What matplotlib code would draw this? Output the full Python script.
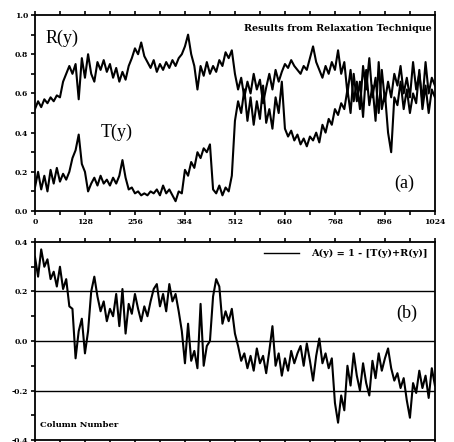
import numpy as np
import matplotlib
matplotlib.use("Agg")
import matplotlib.pyplot as plt

# column positions (every 8 columns)
cols = np.arange(0, 1025, 8)

R_y = [0.52, 0.56, 0.53, 0.57, 0.55, 0.58, 0.56, 0.59, 0.58, 0.66,
       0.70, 0.74, 0.70, 0.75, 0.57, 0.78, 0.68, 0.80, 0.70, 0.66,
       0.76, 0.72, 0.77, 0.71, 0.75, 0.68, 0.73, 0.66, 0.71, 0.67,
       0.74, 0.78, 0.83, 0.80, 0.86, 0.79, 0.76, 0.73, 0.77, 0.71,
       0.75, 0.72, 0.76, 0.73, 0.77, 0.74, 0.78, 0.80, 0.84, 0.90,
       0.80, 0.74, 0.62, 0.74, 0.69, 0.76, 0.70, 0.74, 0.71, 0.77,
       0.74, 0.81, 0.78, 0.82, 0.70, 0.62, 0.68, 0.58, 0.66, 0.60,
       0.70, 0.62, 0.67, 0.55, 0.63, 0.70, 0.62, 0.72, 0.66, 0.71,
       0.75, 0.73, 0.77, 0.74, 0.72, 0.70, 0.74, 0.72, 0.78, 0.84,
       0.76, 0.72, 0.68, 0.74, 0.70, 0.76, 0.72, 0.82, 0.70, 0.76,
       0.60, 0.72, 0.56, 0.66, 0.52, 0.74, 0.62, 0.78, 0.58, 0.68,
       0.50, 0.72, 0.56, 0.66, 0.58, 0.70, 0.64, 0.74, 0.60, 0.68,
       0.58, 0.76, 0.62, 0.70, 0.56, 0.76, 0.60, 0.68, 0.64]

T_y = [0.12, 0.20, 0.11, 0.18, 0.10, 0.21, 0.14, 0.22, 0.15, 0.19,
       0.16, 0.20, 0.27, 0.31, 0.39, 0.24, 0.20, 0.10, 0.14, 0.17,
       0.13, 0.18, 0.14, 0.16, 0.13, 0.17, 0.14, 0.18, 0.26, 0.17,
       0.11, 0.12, 0.09, 0.10, 0.08, 0.09, 0.08, 0.10, 0.09, 0.11,
       0.08, 0.13, 0.09, 0.11, 0.08, 0.05, 0.10, 0.09, 0.21, 0.18,
       0.25, 0.22, 0.30, 0.27, 0.32, 0.30, 0.34, 0.11, 0.09, 0.13,
       0.08, 0.12, 0.10, 0.18, 0.46, 0.56, 0.50, 0.62, 0.46, 0.58,
       0.44, 0.56, 0.47, 0.64, 0.45, 0.52, 0.42, 0.58, 0.50, 0.66,
       0.42, 0.38, 0.41, 0.36, 0.39, 0.34, 0.37, 0.33, 0.38, 0.36,
       0.40, 0.35, 0.44, 0.40, 0.47, 0.44, 0.52, 0.49, 0.55, 0.52,
       0.62, 0.50, 0.70, 0.56, 0.66, 0.48, 0.72, 0.54, 0.64, 0.46,
       0.76, 0.52, 0.60, 0.40, 0.30, 0.58, 0.54, 0.66, 0.52, 0.62,
       0.50, 0.60, 0.55, 0.72, 0.52, 0.64, 0.50, 0.62, 0.58]

A_y = [0.34, 0.26, 0.37, 0.30, 0.33, 0.25, 0.28, 0.22, 0.30, 0.21,
       0.25, 0.14, 0.13, -0.07, 0.04, 0.09, -0.05, 0.04, 0.20, 0.26,
       0.18, 0.12, 0.16, 0.08, 0.13, 0.10, 0.19, 0.06, 0.21, 0.03,
       0.15, 0.11, 0.19, 0.13, 0.08, 0.14, 0.10, 0.16, 0.21, 0.23,
       0.14, 0.19, 0.12, 0.23, 0.16, 0.19, 0.12, 0.04, -0.09, 0.07,
       -0.08, -0.04, -0.11, 0.15, -0.10, -0.02, 0.00, 0.18, 0.25, 0.22,
       0.07, 0.12, 0.08, 0.13, 0.03, -0.02, -0.08, -0.05, -0.11, -0.06,
       -0.12, -0.03, -0.09, -0.06, -0.13, -0.04, 0.06, -0.10, -0.05, -0.14,
       -0.07, -0.12, -0.04, -0.09, -0.05, -0.02, -0.10, -0.01, -0.08, -0.16,
       -0.06, 0.01, -0.09, -0.05, -0.11, -0.07, -0.25, -0.33, -0.22, -0.28,
       -0.10, -0.18, -0.05, -0.14, -0.20, -0.09, -0.17, -0.22, -0.08, -0.15,
       -0.05, -0.12, -0.07, -0.03, -0.11, -0.16, -0.13, -0.19, -0.15, -0.24,
       -0.31, -0.17, -0.21, -0.12, -0.19, -0.14, -0.23, -0.11, -0.18]

xticks = [0, 128, 256, 384, 512, 640, 768, 896, 1024]

serif = 'Liberation Serif'
wide = 'DejaVu Serif'

fig = plt.figure(figsize=(4.54, 4.42), dpi=100)
ax1 = fig.add_axes([0.077, 0.5226, 0.881, 0.4434])
ax2 = fig.add_axes([0.077, 0.0045, 0.881, 0.448])

# top panel: R(y) and T(y)
ax1.plot(cols, R_y, color='black', lw=1.5)
ax1.plot(cols, T_y, color='black', lw=1.5)
ax1.set_xlim(0, 1024)
ax1.set_ylim(0, 1.0)
ax1.set_xticks(xticks)
ax1.set_xticklabels([str(t) for t in xticks], fontfamily=wide, fontweight='bold', fontsize=5.5)
ax1.set_xticks(np.arange(0, 1025, 64), minor=True)
ax1.set_yticks([0.0, 0.2, 0.4, 0.6, 0.8, 1.0])
ax1.set_yticklabels(['0.0', '0.2', '0.4', '0.6', '0.8', '1.0'], fontfamily=wide, fontweight='bold', fontsize=5.5)
ax1.set_yticks(np.arange(0, 1.01, 0.1), minor=True)
ax1.tick_params(axis='both', which='both', direction='out', length=3, width=1.2, top=True, pad=2)
ax1.tick_params(axis='x', which='minor', labelbottom=False)

ax1.text(26, 0.88, 'R(y)', fontfamily=serif, fontsize=13, ha='left', va='center')
ax1.text(168, 0.40, 'T(y)', fontfamily=serif, fontsize=13, ha='left', va='center')
ax1.text(972, 0.14, '(a)', fontfamily=serif, fontsize=13, ha='right', va='center')
ax1.text(1016, 0.93, 'Results from Relaxation Technique', fontfamily=wide,
         fontweight='bold', fontsize=6.9, ha='right', va='center')

# bottom panel: A(y)
ax2.plot(cols, A_y, color='black', lw=1.5, label='A(y) = 1 - [T(y)+R(y)]')
for yv in [0.2, 0.0, -0.2]:
    ax2.axhline(yv, color='black', lw=1.0)
ax2.set_xlim(0, 1024)
ax2.set_ylim(-0.4, 0.4)
ax2.set_xticks(np.arange(0, 1025, 64))
ax2.set_xticklabels([])
ax2.set_yticks([-0.4, -0.2, 0.0, 0.2, 0.4])
ax2.set_yticklabels(['-0.4', '-0.2', '0.0', '0.2', '0.4'], fontfamily=wide, fontweight='bold', fontsize=5.5)
ax2.set_yticks(np.arange(-0.4, 0.41, 0.1), minor=True)
ax2.tick_params(axis='both', which='both', direction='out', length=3, width=1.2, top=True, pad=2)

ax2.text(980, 0.11, '(b)', fontfamily=serif, fontsize=13, ha='right', va='center')
ax2.text(12, -0.34, 'Column Number', fontfamily=wide, fontweight='bold', fontsize=6, ha='left', va='center')
leg = ax2.legend(loc='upper right', frameon=False, prop={'family': wide, 'weight': 'bold', 'size': 7},
                 handlelength=3.6, handletextpad=1.3, borderaxespad=0.3)
leg.get_lines()[0].set_linewidth(1.0)

for ax in (ax1, ax2):
    for s in ax.spines.values():
        s.set_linewidth(1.3)

fig.savefig('out.png', dpi=100)
